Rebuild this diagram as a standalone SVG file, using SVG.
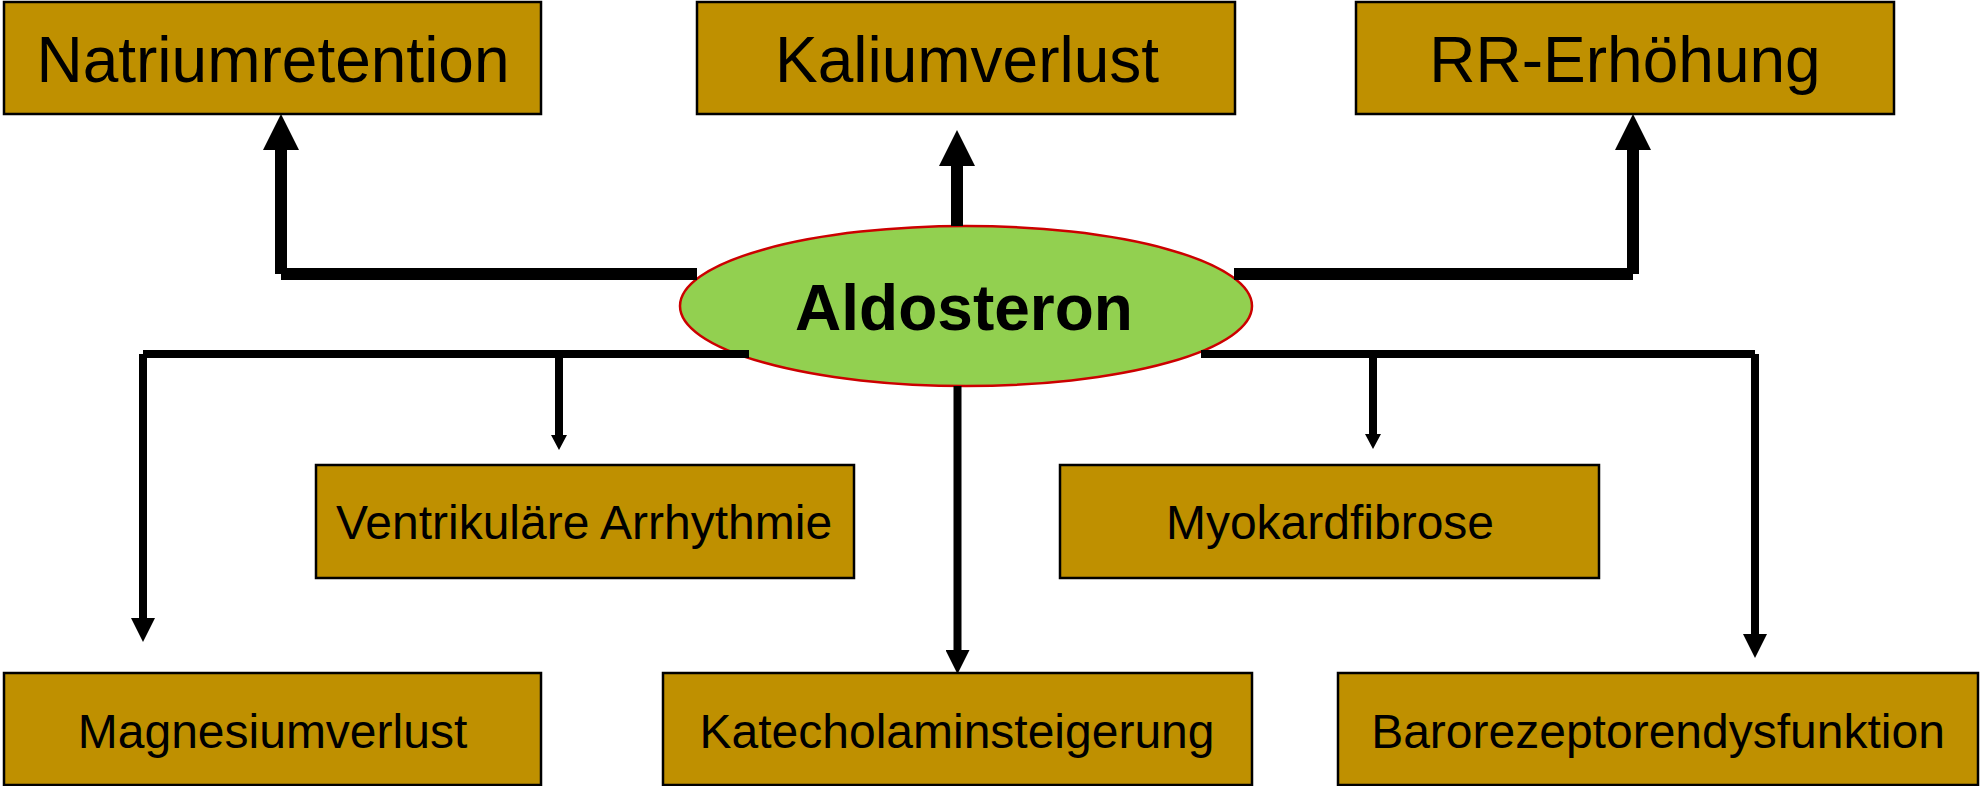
<svg xmlns="http://www.w3.org/2000/svg" width="1980" height="786" viewBox="0 0 1980 786">
  <style>
    .box { fill: #BF9000; stroke: #000; stroke-width: 2.5; }
    .lbl { font-family: "Liberation Sans", Arial, sans-serif; fill: #000; text-anchor: middle; }
    .big { font-size: 64px; }
    .small { font-size: 48px; }
    .hub { fill: #92D050; stroke: #CC0000; stroke-width: 2.5; }
    .hubtxt { font-family: "Liberation Sans", Arial, sans-serif; font-size: 64px; font-weight: bold; text-anchor: middle; fill: #000; }
    .thick { fill: none; stroke: #000; stroke-width: 12; stroke-linecap: butt; }
    .thin { fill: none; stroke: #000; stroke-width: 8; stroke-linecap: butt; }
  </style>
  <defs>
    <marker id="headL" markerUnits="userSpaceOnUse" markerWidth="36" markerHeight="36" refX="0" refY="18" orient="auto" viewBox="0 0 36 36">
      <path d="M0,0 L36,18 L0,36 Z" fill="#000"/>
    </marker>
    <marker id="headM" markerUnits="userSpaceOnUse" markerWidth="24" markerHeight="24" refX="0" refY="12" orient="auto" viewBox="0 0 24 24">
      <path d="M0,0 L24,12 L0,24 Z" fill="#000"/>
    </marker>
    <marker id="headS" markerUnits="userSpaceOnUse" markerWidth="15" markerHeight="16" refX="0" refY="8" orient="auto" viewBox="0 0 15 16">
      <path d="M0,0 L15,8 L0,16 Z" fill="#000"/>
    </marker>
  </defs>

  <!-- central hormone -->
  <g id="aldosteron">
    <ellipse class="hub" cx="966" cy="306" rx="286" ry="80"/>
    <text class="hubtxt" x="964" y="330">Aldosteron</text>
  </g>

  <!-- effects, top row -->
  <g id="natriumretention">
    <rect class="box" x="4" y="2" width="537" height="112"/>
    <text class="lbl big" x="273" y="82">Natriumretention</text>
  </g>
  <g id="kaliumverlust">
    <rect class="box" x="697" y="2" width="538" height="112"/>
    <text class="lbl big" x="967" y="82">Kaliumverlust</text>
  </g>
  <g id="rr-erhoehung">
    <rect class="box" x="1356" y="2" width="538" height="112"/>
    <text class="lbl big" x="1625" y="82">RR-Erhöhung</text>
  </g>

  <!-- effects, middle row -->
  <g id="ventrikulaere-arrhythmie">
    <rect class="box" x="316" y="465" width="538" height="113"/>
    <text class="lbl small" x="584" y="539">Ventrikuläre Arrhythmie</text>
  </g>
  <g id="myokardfibrose">
    <rect class="box" x="1060" y="465" width="539" height="113"/>
    <text class="lbl small" x="1330" y="539">Myokardfibrose</text>
  </g>

  <!-- effects, bottom row -->
  <g id="magnesiumverlust">
    <rect class="box" x="4" y="673" width="537" height="112"/>
    <text class="lbl small" x="272.5" y="748">Magnesiumverlust</text>
  </g>
  <g id="katecholaminsteigerung">
    <rect class="box" x="663" y="673" width="589" height="112"/>
    <text class="lbl small" x="957" y="748">Katecholaminsteigerung</text>
  </g>
  <g id="barorezeptorendysfunktion">
    <rect class="box" x="1338" y="673" width="640" height="112"/>
    <text class="lbl small" x="1658" y="748">Barorezeptorendysfunktion</text>
  </g>

  <!-- connectors -->
  <g id="connectors">
    <path class="thick" d="M697,274 H281 M281,274 V150" marker-end="url(#headL)"/>
    <path class="thick" d="M957,226 V166" marker-end="url(#headL)"/>
    <path class="thick" d="M1234,274 H1633 M1633,274 V150" marker-end="url(#headL)"/>
    <path class="thin" d="M749,354 H143 M143,354 V618" marker-end="url(#headM)"/>
    <path class="thin" d="M559,354 V435" marker-end="url(#headS)"/>
    <path class="thin" d="M957.5,386 V650" marker-end="url(#headM)"/>
    <path class="thin" d="M1201,354 H1755 M1755,354 V634" marker-end="url(#headM)"/>
    <path class="thin" d="M1373,354 V434" marker-end="url(#headS)"/>
  </g>
</svg>
